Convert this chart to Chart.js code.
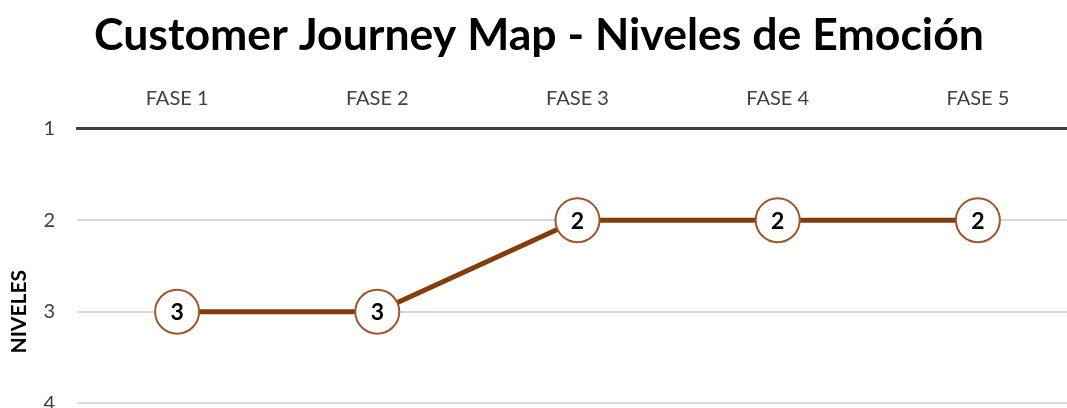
<!DOCTYPE html>
<html>
<head>
<meta charset="utf-8">
<script src="https://cdn.jsdelivr.net/npm/chart.js@4/dist/chart.umd.min.js"></script>
<style>
  html, body { margin: 0; padding: 0; background: #fff; overflow: hidden; }
  #myChart { position: absolute; left: 0; top: 0; }
</style>
</head>
<body>
<canvas id="myChart" width="1078" height="529"></canvas>
<script>
// datos del gráfico
const fases = ['FASE 1', 'FASE 2', 'FASE 3', 'FASE 4', 'FASE 5'];
const niveles = [3, 3, 2, 2, 2];
const titulo = 'Customer Journey Map - Niveles de Emoción';
const ejeY = 'NIVELES';

const FONT = 'Lato, "Open Sans", sans-serif';

// etiquetas dentro de los círculos
const etiquetas = {
    id: 'etiquetas',
    afterDatasetsDraw(chart) {
        const ctx = chart.ctx;
        const meta = chart.getDatasetMeta(0);
        ctx.save();
        ctx.font = 'bold 23px ' + FONT;
        ctx.fillStyle = '#000';
        ctx.textAlign = 'center';
        ctx.textBaseline = 'middle';
        meta.data.forEach((pt, i) => {
            ctx.fillText(String(chart.data.datasets[0].data[i]), pt.x, pt.y + 1);
        });
        ctx.restore();
    }
};

const ctx = document.getElementById('myChart').getContext('2d');
const myChart = new Chart(ctx, {
    type: 'line',
    data: {
        labels: fases,
        datasets: [{
            data: niveles,
            borderColor: '#843C0C',
            borderWidth: 5,
            tension: 0,
            pointRadius: 22,
            pointHoverRadius: 22,
            pointBackgroundColor: '#fff',
            pointBorderColor: '#A0562C',
            pointBorderWidth: 2
        }]
    },
    options: {
        responsive: false,
        animation: false,
        layout: { padding: 0, autoPadding: false },
        plugins: {
            legend: { display: false },
            tooltip: { enabled: false },
            title: {
                display: true,
                text: titulo,
                color: '#000',
                font: { family: FONT, size: 44.6, weight: 'bold' },
                padding: { top: 9, bottom: 14 }
            }
        },
        scales: {
            x: {
                position: 'top',
                offset: true,
                grid: { display: false },
                border: { display: true, color: '#404040', width: 3 },
                ticks: {
                    color: '#404040',
                    font: { family: FONT, size: 20 },
                    padding: 10
                }
            },
            y: {
                reverse: true,
                min: 1,
                max: 5,
                afterFit: s => { s.width = 77; },
                grid: { color: '#d9d9d9', lineWidth: 2, drawTicks: false },
                border: { display: false },
                ticks: {
                    stepSize: 1,
                    color: '#404040',
                    font: { family: FONT, size: 20 },
                    padding: 22
                },
                title: {
                    display: true,
                    text: ejeY,
                    color: '#000',
                    font: { family: FONT, size: 21, weight: 'bold' },
                    padding: { top: 7, bottom: 4 }
                }
            }
        }
    },
    plugins: [etiquetas]
});
</script>
</body>
</html>
